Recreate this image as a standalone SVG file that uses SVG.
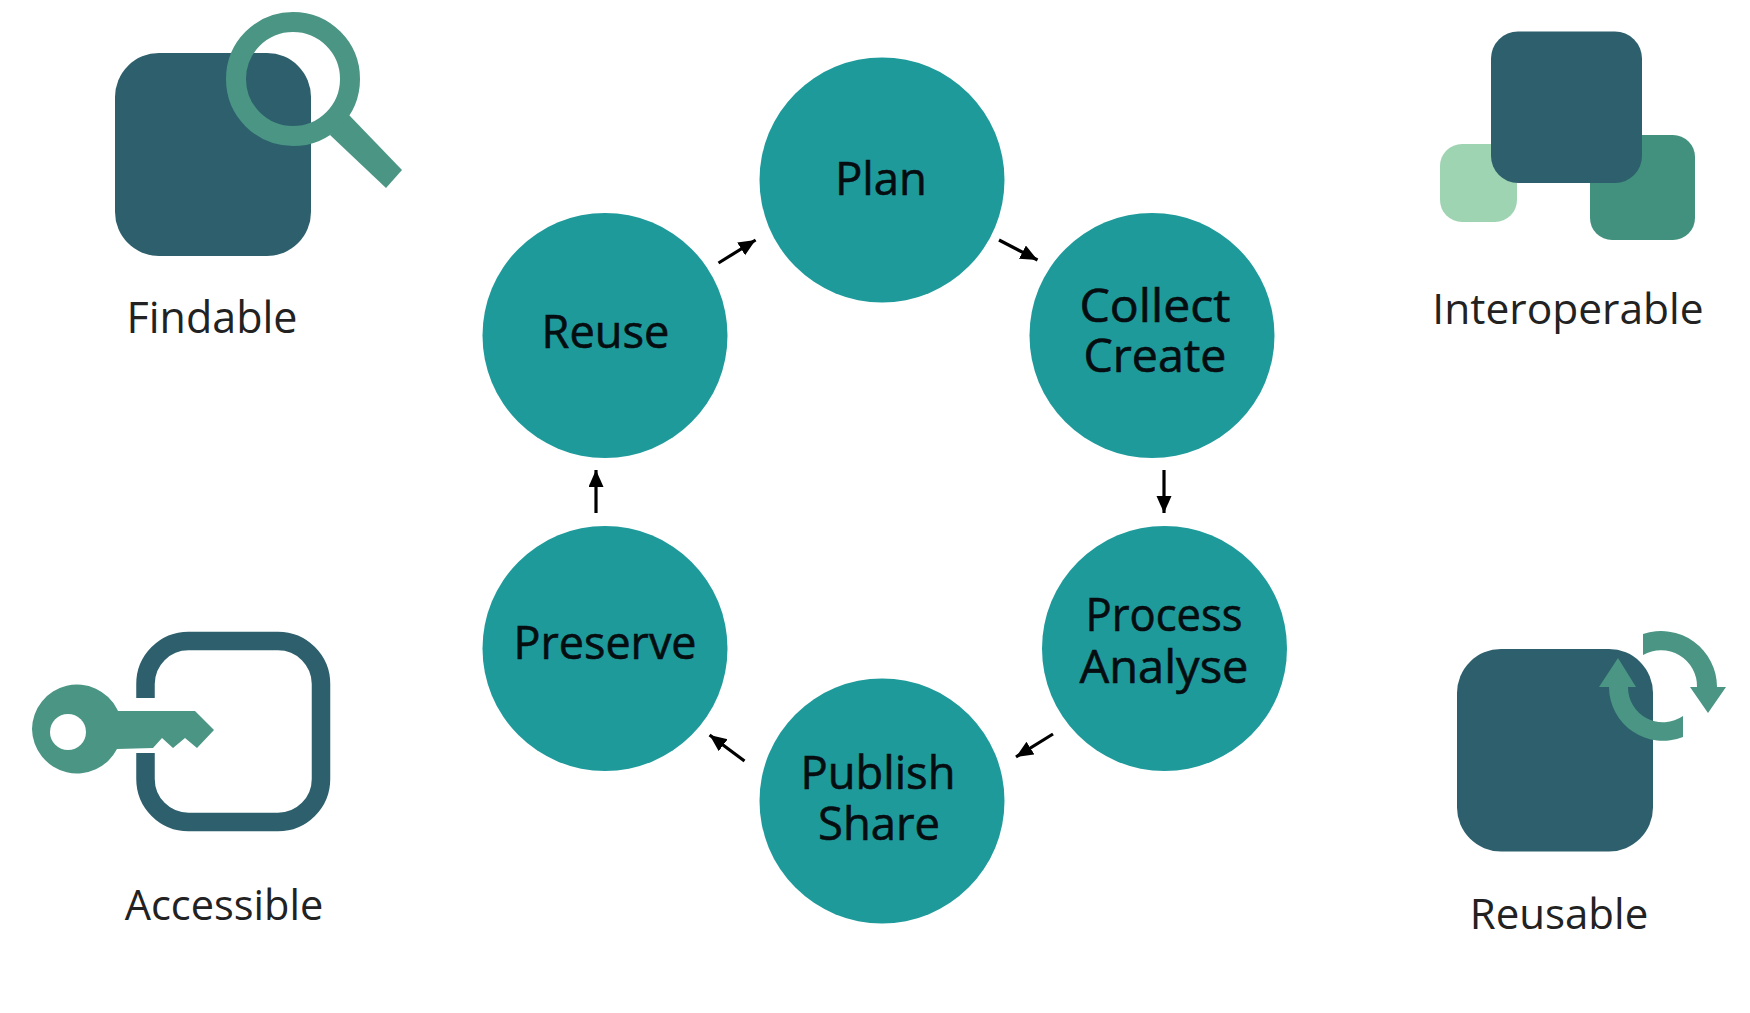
<svg xmlns="http://www.w3.org/2000/svg" width="1750" height="1013" viewBox="0 0 1750 1013">
<style>
.bg{fill:#fff}
.step{fill:#1f9a9b}
.dark{fill:#2d5f6c}
.mid{fill:#4a9584}
.light{fill:#9fd4b3}
text{font-family:"Open Sans","Noto Sans","Liberation Sans",sans-serif;text-anchor:middle}
.nl{font-size:46px;fill:#060d10;stroke:#060d10;stroke-width:.6}
.fl{font-size:42px;fill:#222}
.conn{stroke:#000;stroke-width:3.2;fill:none;marker-end:url(#ah)}
</style>
<defs>
<marker id="ah" markerUnits="userSpaceOnUse" markerWidth="19" markerHeight="17" refX="17" refY="7.500" orient="auto"><path d="M0 0L17 7.500L0 15z" fill="#000"/></marker>
</defs>
<rect class="bg" width="1750" height="1013"/>
<g id="connectors">
<path class="conn" d="M718.500 263L755.600 240"/>
<path class="conn" d="M999 240L1037.500 260"/>
<path class="conn" d="M1164 470V513"/>
<path class="conn" d="M1053 734L1016 757"/>
<path class="conn" d="M744.500 761L709.600 735"/>
<path class="conn" d="M596 513V470"/>
</g>
<g id="plan"><circle class="step" cx="882" cy="180" r="122.500"/><text class="nl" x="881" y="195" textLength="92" lengthAdjust="spacingAndGlyphs">Plan</text></g>
<g id="collect"><circle class="step" cx="1152" cy="335.500" r="122.500"/><text class="nl" x="1155" y="322" textLength="151" lengthAdjust="spacingAndGlyphs">Collect</text><text class="nl" x="1155" y="372" textLength="143" lengthAdjust="spacingAndGlyphs">Create</text></g>
<g id="process"><circle class="step" cx="1164.500" cy="648.500" r="122.500"/><text class="nl" x="1164" y="631" textLength="157" lengthAdjust="spacingAndGlyphs">Process</text><text class="nl" x="1164" y="683" textLength="169" lengthAdjust="spacingAndGlyphs">Analyse</text></g>
<g id="publish"><circle class="step" cx="882" cy="801" r="122.500"/><text class="nl" x="878" y="789" textLength="155" lengthAdjust="spacingAndGlyphs">Publish</text><text class="nl" x="879" y="840" textLength="122" lengthAdjust="spacingAndGlyphs">Share</text></g>
<g id="preserve"><circle class="step" cx="605" cy="648.500" r="122.500"/><text class="nl" x="605" y="659" textLength="183" lengthAdjust="spacingAndGlyphs">Preserve</text></g>
<g id="reuse"><circle class="step" cx="605" cy="335.500" r="122.500"/><text class="nl" x="605.500" y="348" textLength="128" lengthAdjust="spacingAndGlyphs">Reuse</text></g>
<g id="findable">
<rect class="dark" x="115" y="53" width="196" height="203" rx="44"/>
<path class="mid" d="M349 115L402 170L386 188L330 135z"/>
<circle cx="293" cy="79" r="57" fill="none" stroke="#4a9584" stroke-width="20"/>
<text class="fl" style="font-size:43px" x="212" y="333">Findable</text>
</g>
<g id="accessible">
<path d="M145.500 698V684A43 43 0 0 1 188.500 641H278A43 43 0 0 1 321 684V779A43 43 0 0 1 278 822H188.500A43 43 0 0 1 145.500 779V753" fill="none" stroke="#2d5f6c" stroke-width="18.500"/>
<path class="mid" d="M32 729A45 45 0 0 1 117 709L118 711H195L214 730L197 748L185 738L173 748L162 738L153 748L117 749A45 45 0 0 1 32 729z"/>
<circle class="bg" cx="68" cy="732" r="18"/>
<text class="fl" style="font-size:41.500px" x="224" y="920">Accessible</text>
</g>
<g id="interoperable">
<rect class="light" x="1440" y="144" width="77" height="78" rx="22"/>
<rect class="mid" style="fill:#42917f" x="1590" y="135" width="105" height="105" rx="22"/>
<rect class="dark" x="1491" y="31.500" width="151" height="151.500" rx="27"/>
<text class="fl" style="font-size:42.500px" x="1568" y="324">Interoperable</text>
</g>
<g id="reusable">
<rect class="dark" x="1457" y="649" width="196" height="202.500" rx="44"/>
<path class="mid" d="M1643 634A56 56 0 0 1 1717 687H1726L1708 713L1690 687H1697A36 36 0 0 0 1643 655z"/>
<path class="mid" d="M1618 658L1636 687H1628A35 35 0 0 0 1683 716V737A54 54 0 0 1 1609 687H1599z"/>
<text class="fl" x="1559" y="928.500">Reusable</text>
</g>
</svg>
